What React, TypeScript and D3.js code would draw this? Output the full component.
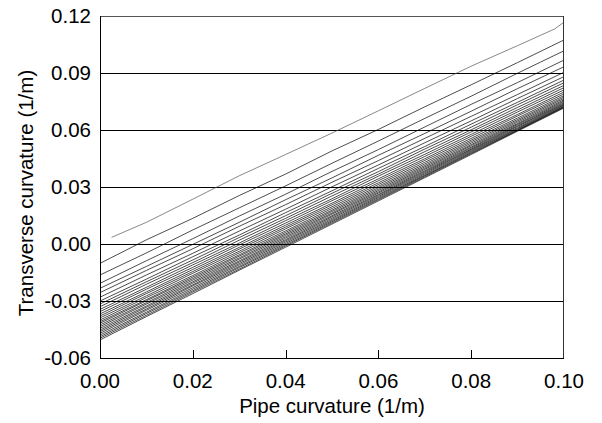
import React from "react";
import * as d3 from "d3";

const xSteps = [0, 0.01, 0.02, 0.03, 0.04, 0.05, 0.06, 0.07, 0.08, 0.09, 0.1];

const topLineX = [0.0025, 0.01, 0.02, 0.03, 0.04, 0.05, 0.06, 0.07, 0.08, 0.09, 0.098, 0.1];
const topLineY = [0.0035, 0.0114, 0.0236, 0.0359, 0.0471, 0.0584, 0.0701, 0.0819, 0.0936, 0.1044, 0.1132, 0.1168];

const seriesValues: number[][] = [
  [-0.0102, 0.0022, 0.0135, 0.0255, 0.0368, 0.049, 0.0603, 0.0722, 0.0838, 0.0955, 0.1074],
  [-0.0163, -0.0047, 0.0074, 0.019, 0.0306, 0.0425, 0.0542, 0.0661, 0.0778, 0.0899, 0.1017],
  [-0.0207, -0.0088, 0.0028, 0.0147, 0.0262, 0.0382, 0.0497, 0.0616, 0.0735, 0.085, 0.0968],
  [-0.0233, -0.0118, -0.0002, 0.0114, 0.0233, 0.0348, 0.0467, 0.0582, 0.0699, 0.0818, 0.0933],
  [-0.0256, -0.0139, -0.0025, 0.0093, 0.0207, 0.0325, 0.0439, 0.0556, 0.0672, 0.0787, 0.0904],
  [-0.028, -0.0163, -0.0049, 0.0068, 0.0183, 0.0301, 0.0416, 0.0533, 0.0648, 0.0766, 0.0881],
  [-0.03, -0.0185, -0.0067, 0.0047, 0.0165, 0.028, 0.0398, 0.0513, 0.0631, 0.0746, 0.0863],
  [-0.0316, -0.0199, -0.0084, 0.0034, 0.0149, 0.0267, 0.0381, 0.05, 0.0615, 0.0733, 0.0849],
  [-0.033, -0.0212, -0.0098, 0.002, 0.0135, 0.0253, 0.0368, 0.0486, 0.0601, 0.0719, 0.0835],
  [-0.0344, -0.0228, -0.011, 0.0005, 0.0123, 0.0238, 0.0357, 0.0472, 0.059, 0.0706, 0.0823],
  [-0.0356, -0.0238, -0.0123, -0.0005, 0.011, 0.0228, 0.0343, 0.0461, 0.0577, 0.0695, 0.0811],
  [-0.0368, -0.0252, -0.0134, -0.0018, 0.0099, 0.0215, 0.0333, 0.0449, 0.0567, 0.0682, 0.08],
  [-0.0379, -0.0261, -0.0145, -0.0027, 0.0089, 0.0206, 0.0322, 0.044, 0.0556, 0.0674, 0.079],
  [-0.0389, -0.0273, -0.0154, -0.0038, 0.008, 0.0196, 0.0313, 0.043, 0.0547, 0.0663, 0.0781],
  [-0.04, -0.0282, -0.0166, -0.0047, 0.0069, 0.0187, 0.0304, 0.0421, 0.0539, 0.0655, 0.0773],
  [-0.0409, -0.0293, -0.0174, -0.0057, 0.0061, 0.0178, 0.0296, 0.0413, 0.0531, 0.0648, 0.0766],
  [-0.0417, -0.0299, -0.0182, -0.0064, 0.0053, 0.0171, 0.0288, 0.0406, 0.0523, 0.0641, 0.0759],
  [-0.0426, -0.0309, -0.019, -0.0073, 0.0046, 0.0163, 0.0281, 0.0399, 0.0517, 0.0634, 0.0753],
  [-0.0435, -0.0316, -0.0199, -0.008, 0.0038, 0.0157, 0.0274, 0.0393, 0.051, 0.0629, 0.0747],
  [-0.0444, -0.0326, -0.0206, -0.0089, 0.0031, 0.0149, 0.0268, 0.0386, 0.0505, 0.0623, 0.0742],
  [-0.0453, -0.0333, -0.0215, -0.0095, 0.0023, 0.0143, 0.0261, 0.0381, 0.0499, 0.0619, 0.0737],
  [-0.0461, -0.0342, -0.0221, -0.0103, 0.0017, 0.0136, 0.0256, 0.0375, 0.0495, 0.0613, 0.0733],
  [-0.047, -0.0349, -0.023, -0.011, 0.001, 0.0129, 0.025, 0.0369, 0.049, 0.0608, 0.0729],
  [-0.0479, -0.0359, -0.0238, -0.0118, 0.0003, 0.0123, 0.0244, 0.0363, 0.0485, 0.0604, 0.0725],
  [-0.0488, -0.0366, -0.0246, -0.0124, -0.0004, 0.0117, 0.0238, 0.0359, 0.048, 0.06, 0.0722],
  [-0.0496, -0.0375, -0.0253, -0.0132, -0.001, 0.0111, 0.0233, 0.0354, 0.0476, 0.0597, 0.0719],
  [-0.0505, -0.0382, -0.0261, -0.0138, -0.0017, 0.0105, 0.0227, 0.0349, 0.0471, 0.0594, 0.0716],
];

const xTicks = [0, 0.02, 0.04, 0.06, 0.08, 0.1];
const yTicks = [-0.06, -0.03, 0, 0.03, 0.06, 0.09, 0.12];
const gridValues = [-0.03, 0, 0.03, 0.06, 0.09];

const W = 602;
const H = 423;
const font = "'Liberation Sans', Arial, sans-serif";
const FS = 20.5;

export default function App() {
  const x = d3.scaleLinear().domain([0, 0.1]).range([100, 564]);
  const y = d3.scaleLinear().domain([-0.06, 0.12]).range([358, 16]);
  const line = d3
    .line<[number, number]>()
    .x((d) => x(d[0]))
    .y((d) => y(d[1]));

  const L = x(0);
  const R = x(0.1);
  const T = y(0.12);
  const B = y(-0.06);

  return (
    <svg
      width={W}
      height={H}
      style={{ position: "absolute", left: 0, top: 0, background: "#fff" }}
      fontFamily={font}
    >
      <rect x={0} y={0} width={W} height={H} fill="#fff" />
      {gridValues.map((v) => (
        <line
          key={"g" + v}
          x1={L}
          x2={R}
          y1={Math.round(y(v)) + 0.5}
          y2={Math.round(y(v)) + 0.5}
          stroke="#000"
          strokeWidth={1}
        />
      ))}
      <path
        d={line(topLineX.map((xv, i) => [xv, topLineY[i]]) as [number, number][]) || ""}
        fill="none"
        stroke="#555"
        strokeWidth={0.7}
      />
      {seriesValues.map((vals, k) => (
        <path
          key={"s" + k}
          d={line(xSteps.map((xv, i) => [xv, vals[i]]) as [number, number][]) || ""}
          fill="none"
          stroke="#000"
          strokeWidth={0.7}
        />
      ))}
      {/* frame */}
      <line x1={L} x2={R} y1={T + 0.5} y2={T + 0.5} stroke="#555" strokeWidth={1} />
      <line x1={R - 0.5} x2={R - 0.5} y1={T} y2={B} stroke="#333" strokeWidth={1} />
      <line x1={L + 0.5} x2={L + 0.5} y1={T} y2={B + 1} stroke="#000" strokeWidth={1} />
      <line x1={L} x2={R} y1={B + 0.5} y2={B + 0.5} stroke="#000" strokeWidth={1} />
      {xTicks.slice(1, -1).map((v) => (
        <line
          key={"xt" + v}
          x1={Math.round(x(v)) + 0.5}
          x2={Math.round(x(v)) + 0.5}
          y1={B}
          y2={B - 8}
          stroke="#000"
          strokeWidth={1}
        />
      ))}
      {xTicks.map((v) => (
        <text key={"xl" + v} x={x(v)} y={388} textAnchor="middle" fontSize={FS} fill="#000">
          {d3.format(".2f")(v)}
        </text>
      ))}
      {yTicks.map((v) => (
        <text
          key={"yl" + v}
          x={91}
          y={y(v) + 7.3}
          textAnchor="end"
          fontSize={FS}
          fill="#000"
        >
          {d3.format(".2f")(v).replace("−", "-")}
        </text>
      ))}
      <text x={(L + R) / 2} y={413} textAnchor="middle" fontSize={FS} fill="#000">
        Pipe curvature (1/m)
      </text>
      <text
        transform={`translate(33,193) rotate(-90)`}
        textAnchor="middle"
        fontSize={FS}
        fill="#000"
      >
        Transverse curvature (1/m)
      </text>
    </svg>
  );
}
